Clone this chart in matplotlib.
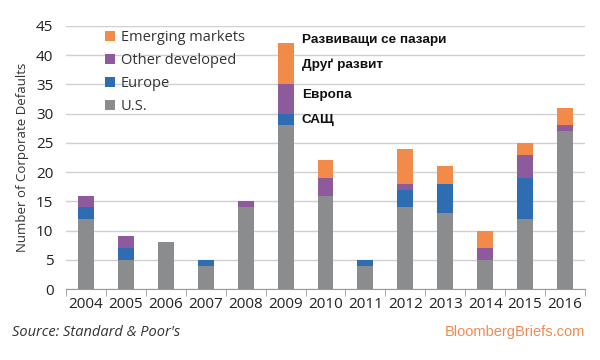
import matplotlib
matplotlib.use("Agg")
import matplotlib.pyplot as plt
import numpy as np

years = ["2004", "2005", "2006", "2007", "2008", "2009", "2010",
         "2011", "2012", "2013", "2014", "2015", "2016"]
us = [12, 5, 8, 4, 14, 28, 16, 4, 14, 13, 5, 12, 27]
europe = [2, 2, 0, 1, 0, 2, 0, 1, 3, 5, 0, 7, 0]
other_dev = [2, 2, 0, 0, 1, 5, 3, 0, 1, 0, 2, 4, 1]
emerging = [0, 0, 0, 0, 0, 7, 3, 0, 6, 3, 3, 2, 3]

series_names = ["U.S.", "Europe", "Other developed", "Emerging markets"]
series_colors = ["#8a8c8e", "#2f6db2", "#8d5a9c", "#f28a4a"]
bg_labels = ["Развиващи се пазари", "Друґ развит", "Европа", "САЩ"]

plt.rcParams['font.family'] = ['Open Sans', 'DejaVu Sans']

fig = plt.figure(figsize=(6, 3.6), dpi=100)
ax = fig.add_axes([0.11, 0.197, 0.865, 0.731])

x = np.arange(len(years))
bottom = np.zeros(len(years))
handles = []
for vals, name, col in zip([us, europe, other_dev, emerging], series_names, series_colors):
    b = ax.bar(x, vals, 0.4, bottom=bottom, color=col, label=name, zorder=3)
    handles.append(b)
    bottom += np.array(vals)

ax.set_ylim(0, 45)
ax.set_xlim(-0.45, 12.45)
ax.set_yticks(range(0, 46, 5))
ax.set_xticks(x)
ax.set_xticklabels(years, fontsize=11, color="#222222")
ax.set_xticks(np.arange(-0.5, 13, 1), minor=True)
ax.tick_params(axis="x", which="major", length=0, pad=6)
ax.tick_params(axis="x", which="minor", length=5, color="#999999")
ax.tick_params(axis="y", length=0, labelsize=11, labelcolor="#222222", pad=9)
ax.grid(axis="y", color="#d0d0d0", linewidth=1, zorder=0)
for s in ["top", "right", "left"]:
    ax.spines[s].set_visible(False)
ax.spines["bottom"].set_color("#999999")
ax.set_ylabel("Number of Corporate Defaults", fontsize=9.5, color="#333333", labelpad=5)

leg = ax.legend(handles[::-1], series_names[::-1], loc="upper left",
                bbox_to_anchor=(0.05, 1.035), frameon=False, fontsize=10.5,
                handlelength=0.65, handleheight=0.65, handletextpad=0.45,
                labelspacing=0.55)
for t in leg.get_texts():
    t.set_color("#333333")

for lbl, ypos in zip(bg_labels, [0.889, 0.819, 0.736, 0.667]):
    fig.text(0.503, ypos, lbl, fontsize=9.7, fontweight="bold",
             family=["Liberation Sans", "DejaVu Sans"], color="#111111", va="center")

fig.text(0.02, 0.075, "Source: Standard & Poor's", fontsize=10.5, style="italic",
         color="#333333", va="center")
fig.text(0.975, 0.077, "BloombergBriefs.com", fontsize=10.5, color="#f08a50",
         ha="right", va="center", family=["Liberation Sans", "DejaVu Sans"])

fig.savefig("out.png", dpi=100, facecolor="white")
